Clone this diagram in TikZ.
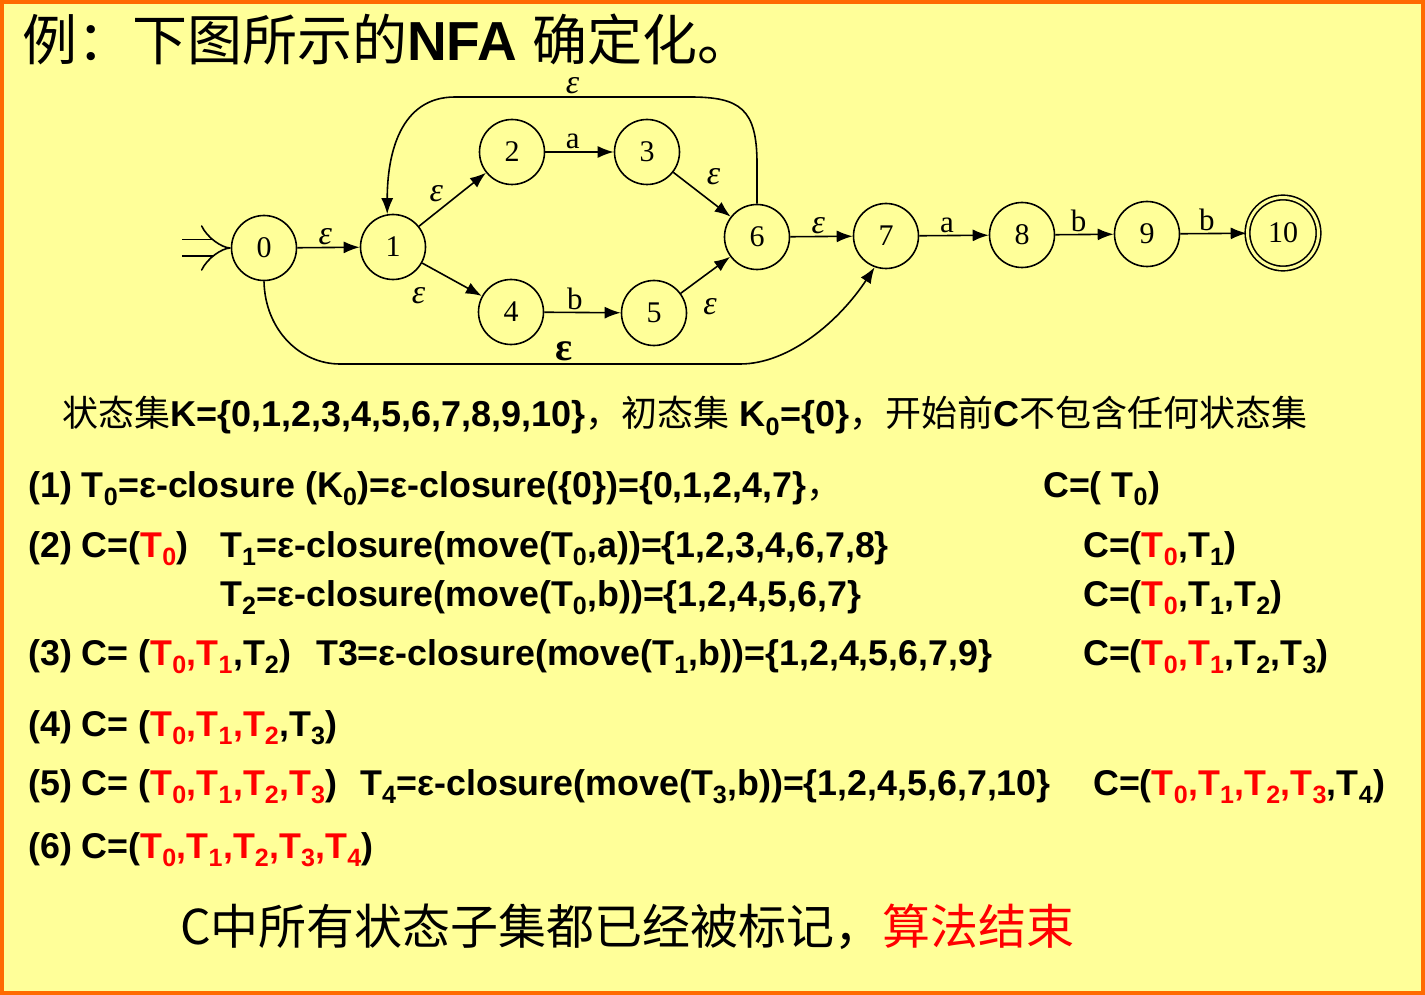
\documentclass[tikz,border=0pt]{standalone}
\usepackage{fontspec}
\usepackage{xcolor}
\usetikzlibrary{arrows.meta}

\setmainfont{Liberation Sans}
\newfontfamily\cjk{Noto Sans CJK SC}
\newfontfamily\statefont{Liberation Serif}

\definecolor{bgyellow}{HTML}{FFFF99}
\definecolor{frameorange}{HTML}{FF6A00}

% T with subscript, black and marked (red)
\newcommand{\tn}[1]{T\textsubscript{#1}}
\newcommand{\rtn}[1]{\textcolor{red}{T\textsubscript{#1}}}
\newcommand{\rcm}{\textcolor{red}{,}}

\tikzset{
  state/.style={draw, circle, line width=1.6pt, minimum size=65pt, inner sep=0pt,
    font=\statefont\fontsize{30}{30}\selectfont},
  accept/.style={state, minimum size=71pt, double=bgyellow, double distance=3pt},
  trans/.style={line width=1.6pt, -{Latex[length=16pt,width=12pt]}},
  sym/.style={inner sep=2pt, font=\statefont\fontsize{31}{31}\selectfont},
  eps/.style={inner sep=2pt, font=\statefont\itshape\fontsize{34}{34}\selectfont},
  txt/.style={anchor=base west, inner sep=0pt, font=\bfseries\fontsize{35.8}{36}\selectfont},
}

\begin{document}
\begin{tikzpicture}[x=1pt,y=-1pt]
\useasboundingbox (0,0) rectangle (1425,995);
\fill[bgyellow] (0,0) rectangle (1425,995);
\draw[frameorange, line width=4pt] (2,2) rectangle (1423,993);

% title
\node[txt, font=\fontsize{55}{55}\selectfont] (title) at (22,61)
  {{\cjk 例：下图所示的}\textbf{NFA} {\cjk 确定化。}};

% the NFA
\node[state] (s0) at (264,248) {0};
\node[state] (s1) at (393,247) {1};
\node[state] (s2) at (512,152) {2};
\node[state] (s3) at (647,152) {3};
\node[state] (s4) at (511,312) {4};
\node[state] (s5) at (654,313) {5};
\node[state] (s6) at (757,237) {6};
\node[state] (s7) at (886,236) {7};
\node[state] (s8) at (1022,235) {8};
\node[state] (s9) at (1147,234) {9};
\node[accept] (s10) at (1283,233) {10};

\coordinate (start) at (182,248);
\draw[line width=1.6pt, double=bgyellow, double distance=15pt, -{Implies}] (start) -- (s0.west);

\draw[trans] (s0) -- node[eps, above, pos=0.45] {ε} (s1);
\draw[trans] (s1) -- node[eps, above left, pos=0.4] {ε} (s2);
\draw[trans] (s2) -- node[sym, above, pos=0.4] {a} (s3);
\draw[trans] (s3) -- node[eps, above right=5pt, pos=0.45] {ε} (s6);
\draw[trans] (s1) -- node[eps, below left=12pt, pos=0.3] {ε} (s4);
\draw[trans] (s4) -- node[sym, above, pos=0.4] {b} (s5);
\draw[trans] (s5) -- node[eps, below right=10pt, pos=0.2] {ε} (s6);
\draw[trans] (s6) -- node[eps, above, pos=0.45] {ε} (s7);
\draw[trans] (s7) -- node[sym, above, pos=0.4] {a} (s8);
\draw[trans] (s8) -- node[sym, above, pos=0.4] {b} (s9);
\draw[trans] (s9) -- node[sym, above, pos=0.4] {b} (s10);

% loops
\draw[trans] (s6.north) -- ++(0,-40) .. controls +(0,-55) and +(50,0) .. (690,97)
  -- node[eps, above] {ε} (455,97) .. controls +(-55,0) and +(0,-60) .. (s1.100);
\draw[trans] (s0.south) .. controls (265,330) and (300,364) .. (340,364)
  -- node[inner sep=2pt, above, pos=0.56, font=\statefont\bfseries\fontsize{40}{40}\selectfont] {ε} (740,364)
  .. controls (790,364) and (840,320) .. (s7.250);

% state sets
\node[txt, font=\fontsize{36}{36}\selectfont] (kset) at (62,426)
  {{\cjk 状态集}\textbf{K=\{0,1,2,3,4,5,6,7,8,9,10\}}{\cjk ，初态集} \textbf{K\textsubscript{0}=\{0\}}{\cjk ，开始前}\textbf{C}{\cjk 不包含任何状态集}};

\node[txt] (l1) at (28,497) {(1) \tn{0}=ε-closure (K\textsubscript{0})=ε-closure(\{0\})=\{0,1,2,4,7\}{\cjk\mdseries ，}};
\node[txt] (c1) at (1043,497) {C=( \tn{0})};

\node[txt] (l2) at (28,557) {(2) C=(\rtn{0})};
\node[txt] (t1) at (220,557) {\tn{1}=ε-closure(move(\tn{0},a))=\{1,2,3,4,6,7,8\}};
\node[txt] (c2) at (1083,557) {C=(\rtn{0},\tn{1})};
\node[txt] (t2) at (220,606) {\tn{2}=ε-closure(move(\tn{0},b))=\{1,2,4,5,6,7\}};
\node[txt] (c2b) at (1083,606) {C=(\rtn{0},\tn{1},\tn{2})};

\node[txt] (l3) at (28,665) {(3) C= (\rtn{0}\rcm\rtn{1},\tn{2})};
\node[txt] (t3) at (316,665) {T3=ε-closure(move(\tn{1},b))=\{1,2,4,5,6,7,9\}};
\node[txt] (c3) at (1083,665) {C=(\rtn{0}\rcm\rtn{1},\tn{2},\tn{3})};

\node[txt] (l4) at (28,736) {(4) C= (\rtn{0}\rcm\rtn{1}\rcm\rtn{2},\tn{3})};

\node[txt] (l5) at (28,795) {(5) C= (\rtn{0}\rcm\rtn{1}\rcm\rtn{2}\rcm\rtn{3})};
\node[txt] (t4) at (360,795) {\tn{4}=ε-closure(move(\tn{3},b))=\{1,2,4,5,6,7,10\}};
\node[txt] (c5) at (1093,795) {C=(\rtn{0}\rcm\rtn{1}\rcm\rtn{2}\rcm\rtn{3},\tn{4})};

\node[txt] (l6) at (28,858) {(6) C=(\rtn{0}\rcm\rtn{1}\rcm\rtn{2}\rcm\rtn{3}\rcm\rtn{4})};

\node[txt, font=\cjk\fontsize{48}{48}\selectfont] (done) at (180,944)
  {C中所有状态子集都已经被标记，\textcolor{red}{算法结束}};
\end{tikzpicture}
\end{document}
